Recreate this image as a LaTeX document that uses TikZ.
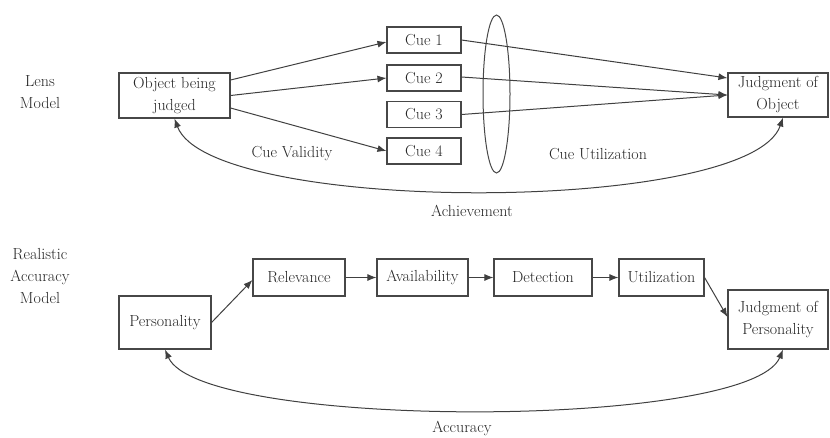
\documentclass[tikz,border=0pt]{standalone}
\usetikzlibrary{arrows.meta,calc}
\begin{document}
\begin{tikzpicture}[x=1pt,y=-1pt,
  every node/.style={font=\fontsize{16}{22}\selectfont, text=black!85},
  box/.style={draw=black!72, line width=1.1pt, inner sep=0pt, align=center},
  lbl/.style={align=center, inner sep=0pt},
  arr/.style={draw=black!75, line width=1pt, -{Latex[length=9pt,width=7pt]}},
  darr/.style={draw=black!75, line width=1pt, {Latex[length=9pt,width=7pt]}-{Latex[length=9pt,width=7pt]}}]
\useasboundingbox (0,0) rectangle (830,437);
% Lens model
\node[lbl] (lens) at (40,92) {Lens\\Model};
\node[box, minimum width=111pt, minimum height=45pt] (obj) at (174.5,95.5) {Object being\\judged};
\node[box, minimum width=74pt, minimum height=26pt] (c1) at (424,40) {Cue 1};
\node[box, minimum width=74pt, minimum height=26pt] (c2) at (424,78) {Cue 2};
\node[box, minimum width=74pt, minimum height=26pt] (c3) at (424,114.5) {Cue 3};
\node[box, minimum width=74pt, minimum height=26pt] (c4) at (424,151) {Cue 4};
\node[box, minimum width=100pt, minimum height=44pt] (jo) at (778,95) {Judgment of\\Object};
\draw[draw=black!72, line width=1pt] (496.5,94) ellipse [x radius=13.5, y radius=79];
\node[lbl] (cv) at (292,154) {Cue Validity};
\node[lbl] (cu) at (598,154) {Cue Utilization};
\node[lbl] (ach) at (472,211) {Achievement};
\draw[arr] ([yshift=15.5pt]obj.east) -- ([yshift=-2pt]c1.west);
\draw[arr] (obj.east) -- (c2.west);
\draw[arr] ([yshift=-12.5pt]obj.east) -- (c4.west);
\draw[arr] (c1.east) -- ([yshift=17pt]jo.west);
\draw[arr] ([yshift=1pt]c2.east) -- (jo.west);
\draw[arr] (c3.east) -- (jo.west);
\draw[darr] ([xshift=5pt]jo.south) .. controls (750,215) and (210,215) .. (obj.south);
% Realistic accuracy model
\node[lbl] (ram) at (40,276) {Realistic\\Accuracy\\Model};
\node[box, minimum width=92pt, minimum height=53pt] (pers) at (165,322.5) {Personality};
\node[box, minimum width=92pt, minimum height=37pt] (rel) at (299,277.5) {Relevance};
\node[box, minimum width=91pt, minimum height=37pt] (av) at (422.5,277.5) {Availability};
\node[box, minimum width=98pt, minimum height=37pt] (det) at (543,277.5) {Detection};
\node[box, minimum width=85pt, minimum height=37pt] (ut) at (661.5,277.5) {Utilization};
\node[box, minimum width=100pt, minimum height=59pt] (jp) at (778,319.5) {Judgment of\\Personality};
\node[lbl] (acc) at (462,428) {Accuracy};
\draw[arr] (pers.east) -- ([yshift=-2.5pt]rel.west);
\draw[arr] (rel.east) -- (av.west);
\draw[arr] (av.east) -- (det.west);
\draw[arr] (det.east) -- (ut.west);
\draw[arr] (ut.east) -- ([yshift=2.5pt]jp.west);
\draw[darr] ([xshift=5pt]jp.south) .. controls (750,430) and (200,430) .. (pers.south);
\end{tikzpicture}
\end{document}
